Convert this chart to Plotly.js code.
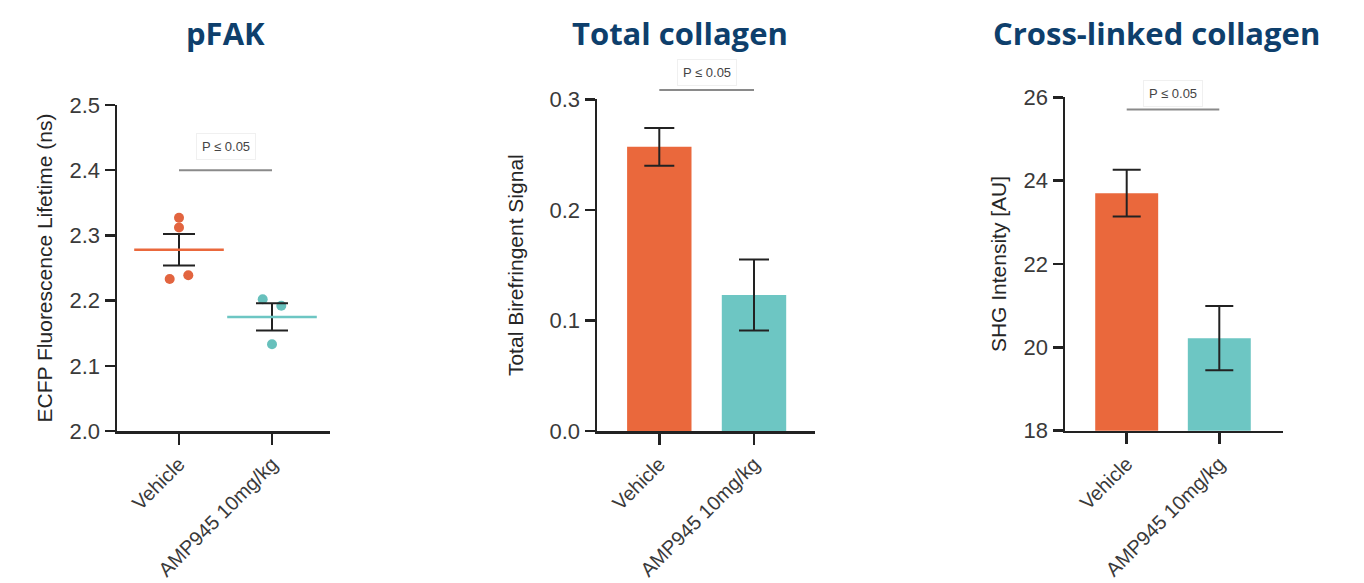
<!DOCTYPE html>
<html>
<head>
<meta charset="utf-8">
<script src="https://cdn.plot.ly/plotly-3.0.1.min.js"></script>
<style>
  html, body { margin: 0; padding: 0; background: #fff; }
  #chart { width: 1364px; height: 583px; }
</style>
</head>
<body>
<div id="chart"></div>
<script>
// ---- data ----
const groups = ['Vehicle', 'AMP945 10mg/kg'];

// pFAK: individual animals, group mean and SEM
const pfakVehicle = [2.327, 2.312, 2.233, 2.239];
const pfakAmp = [2.202, 2.192, 2.133];
const pfakMean = [2.278, 2.175];
const pfakSem = [0.024, 0.021];

// Total collagen (birefringence)
const totalMean = [0.257, 0.123];
const totalSem = [0.017, 0.032];

// Cross-linked collagen (SHG)
const shgMean = [23.70, 20.22];
const shgSem = [0.56, 0.77];

const pLabel = 'P ≤ 0.05';

// ---- styling ----
const W = 1364, H = 583;
const ORANGE = '#EA683C', TEAL = '#6DC6C3';
const DOT_OR = '#E2643F', DOT_TE = '#67C0BC';
const NAVY = '#0E3F6C';
const INK = '#222';
const FONT = 'Liberation Sans, Arial, sans-serif';

// horizontal spread of the dots around each group centre
const spreadVehicle = [0, 0, -0.1, 0.1];
const spreadAmp = [-0.1, 0.1, 0];

// pixel boxes of the three panels: axis left/right, category centres, top/bottom
const boxes = [
  {l: 117, r: 330, c0: 179, c1: 272, t: 105, b: 431},
  {l: 597, r: 815, c0: 659.3, c1: 754, t: 99.3, b: 431},
  {l: 1065, r: 1283, c0: 1126.7, c1: 1219.3, t: 97.3, b: 430.7}
];
const xDom = bx => [bx.l / W, bx.r / W];
const yDom = bx => [1 - bx.b / H, 1 - bx.t / H];
const xRange = bx => { const u = bx.c1 - bx.c0; return [(bx.l - bx.c0) / u, (bx.r - bx.c0) / u]; };

const tickFont = {family: FONT, size: 22, color: '#3a3a3a'};
const xTickFont = {family: FONT, size: 20, color: '#3a3a3a'};

function xAxis(i, anchor) {
  return {
    domain: xDom(boxes[i]), range: xRange(boxes[i]), anchor: anchor,
    tickvals: [0, 1], ticktext: groups, tickangle: -45,
    ticks: 'outside', ticklen: 11, tickwidth: 2.5, tickcolor: INK,
    showline: true, linecolor: INK, linewidth: 2.5,
    showgrid: false, zeroline: false, tickfont: xTickFont, fixedrange: true
  };
}
function yAxis(i, anchor, range, dtick, fmt, title, standoff) {
  return {
    domain: yDom(boxes[i]), range: range, anchor: anchor,
    dtick: dtick, tick0: range[0], tickformat: fmt,
    ticks: 'outside', ticklen: 10, tickwidth: 2.5, tickcolor: INK,
    showline: true, linecolor: INK, linewidth: 2.5,
    showgrid: false, zeroline: false, tickfont: tickFont,
    title: {text: title, font: {family: FONT, size: 21, color: '#262626'}, standoff: standoff},
    automargin: false, fixedrange: true
  };
}

const traces = [
  // pFAK dots
  {x: spreadVehicle.map(d => 0 + d), y: pfakVehicle, type: 'scatter', mode: 'markers',
   marker: {color: DOT_OR, size: 10}, xaxis: 'x', yaxis: 'y', hoverinfo: 'y'},
  {x: spreadAmp.map(d => 1 + d), y: pfakAmp, type: 'scatter', mode: 'markers',
   marker: {color: DOT_TE, size: 10}, xaxis: 'x', yaxis: 'y', hoverinfo: 'y'},
  // pFAK mean lines with SEM
  {x: [0, 1], y: pfakMean, type: 'scatter', mode: 'markers',
   marker: {symbol: 'line-ew-open', size: 64, color: [ORANGE, TEAL], line: {width: 2.5, color: [ORANGE, TEAL]}},
   error_y: {type: 'data', array: pfakSem, visible: true, color: INK, thickness: 2, width: 16},
   xaxis: 'x', yaxis: 'y', hoverinfo: 'y'},
  // Total collagen bars
  {x: [0, 1], y: totalMean, type: 'bar', width: 0.68,
   marker: {color: [ORANGE, TEAL], line: {width: 0}},
   error_y: {type: 'data', array: totalSem, visible: true, color: INK, thickness: 2, width: 15},
   xaxis: 'x2', yaxis: 'y2', hoverinfo: 'y'},
  // Cross-linked collagen bars (axis floor at 18 clips the bar bottoms)
  {x: [0, 1], y: shgMean, type: 'bar', width: 0.68,
   marker: {color: [ORANGE, TEAL], line: {width: 0}},
   error_y: {type: 'data', array: shgSem, visible: true, color: INK, thickness: 2, width: 14},
   xaxis: 'x3', yaxis: 'y3', hoverinfo: 'y'}
];

// significance brackets between the two groups
const bracketColor = '#8a8a8a';
const bracketY = [2.4, 1 - 90 / H, 25.71];
const shapes = [
  {type: 'line', xref: 'x', yref: 'y', x0: 0, x1: 1, y0: bracketY[0], y1: bracketY[0], line: {color: bracketColor, width: 2}},
  {type: 'line', xref: 'x2', yref: 'paper', x0: 0, x1: 1, y0: bracketY[1], y1: bracketY[1], line: {color: bracketColor, width: 2}},
  {type: 'line', xref: 'x3', yref: 'y3', x0: 0, x1: 1, y0: bracketY[2], y1: bracketY[2], line: {color: bracketColor, width: 2}}
];

function pNote(xref, yref, y, shift) {
  return {text: pLabel, xref: xref, yref: yref, x: 0.5, y: y, yshift: shift,
    xanchor: 'center', yanchor: 'middle',
    showarrow: false, font: {family: FONT, size: 13, color: '#444'},
    bordercolor: '#f0f0f0', borderwidth: 1, borderpad: 5, bgcolor: 'rgba(0,0,0,0)'};
}
function panelTitle(text, xc) {
  return {text: '<b>' + text + '</b>', xref: 'paper', yref: 'paper', x: xc / W, y: 1 - 33 / H,
    xanchor: 'center', yanchor: 'middle', showarrow: false,
    font: {family: 'Open Sans, sans-serif', size: 31, color: NAVY}};
}

const annotations = [
  panelTitle('pFAK', 225),
  panelTitle('Total collagen', 680),
  panelTitle('Cross-linked collagen', 1156),
  pNote('x', 'y', bracketY[0], 24),
  pNote('x2', 'paper', bracketY[1], 18),
  pNote('x3', 'y3', bracketY[2], 16)
];

const layout = {
  width: W, height: H,
  margin: {l: 0, r: 0, t: 0, b: 0},
  paper_bgcolor: '#fff', plot_bgcolor: '#fff',
  showlegend: false,
  font: {family: FONT},
  xaxis: xAxis(0, 'y'),
  yaxis: yAxis(0, 'x', [2.0, 2.5], 0.1, '.1f', 'ECFP Fluorescence Lifetime (ns)', 11),
  xaxis2: xAxis(1, 'y2'),
  yaxis2: yAxis(1, 'x2', [0, 0.3], 0.1, '.1f', 'Total Birefringent Signal', 20),
  xaxis3: xAxis(2, 'y3'),
  yaxis3: yAxis(2, 'x3', [18, 26], 2, 'd', 'SHG Intensity [AU]', 12),
  shapes: shapes,
  annotations: annotations
};

Plotly.newPlot('chart', traces, layout, {displayModeBar: false, staticPlot: true});
</script>
</body>
</html>
